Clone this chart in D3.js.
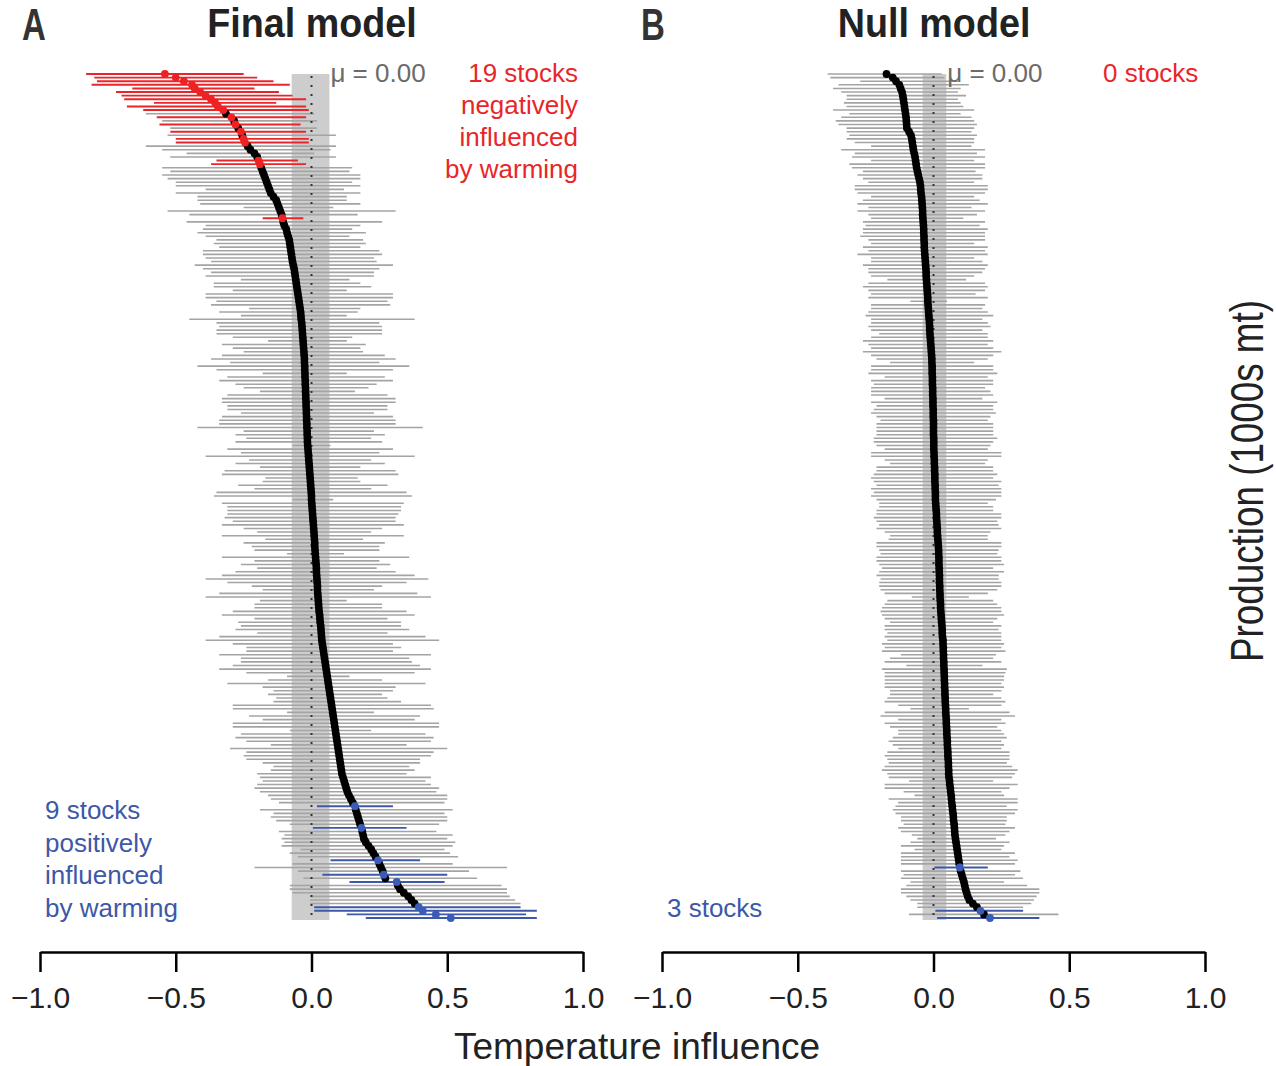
<!DOCTYPE html>
<html><head><meta charset="utf-8">
<script src="https://cdn.jsdelivr.net/npm/d3@7"></script>
<style>
body{margin:0;background:#fff}
svg{display:block}
text{font-family:"Liberation Sans",Arial,Helvetica,sans-serif}
</style>
</head><body>
<svg id="chart" width="1276" height="1066"></svg>
<script>
// ---------- DATA ----------
const tickValues = [-1, -0.5, 0, 0.5, 1];
const panelLetters = ["A", "B"];
const panelTitles = ["Final model", "Null model"];
const muLabels = ["μ = 0.00", "μ = 0.00"];
const negLabelA = ["19 stocks", "negatively", "influenced", "by warming"];
const posLabelA = ["9 stocks", "positively", "influenced", "by warming"];
const negLabelB = ["0 stocks"];
const posLabelB = ["3 stocks"];
const xTitle = "Temperature influence";
const sideTitle = "Production (1000s mt)";

// Panel A: Final model (stocks ordered by estimate)
const estA = [
-0.54,-0.50,-0.47,-0.44,-0.43,-0.41,-0.39,-0.37,-0.355,-0.345,
-0.325,-0.315,-0.295,-0.285,-0.28,-0.27,-0.26,-0.255,-0.25,-0.245,
-0.235,-0.225,-0.21,-0.20,-0.195,-0.19,-0.185,-0.18,-0.175,-0.17,
-0.165,-0.16,-0.155,-0.15,-0.14,-0.13,-0.125,-0.12,-0.115,-0.11,
-0.107,-0.104,-0.10,-0.093,-0.09,-0.086,-0.082,-0.08,-0.078,-0.076,
-0.074,-0.072,-0.07,-0.067,-0.064,-0.062,-0.06,-0.058,-0.056,-0.054,
-0.052,-0.05,-0.048,-0.046,-0.044,-0.042,-0.04,-0.039,-0.038,-0.036,
-0.035,-0.034,-0.033,-0.032,-0.031,-0.03,-0.029,-0.028,-0.027,-0.026,
-0.026,-0.025,-0.025,-0.024,-0.024,-0.023,-0.023,-0.022,-0.022,-0.021,
-0.021,-0.02,-0.02,-0.019,-0.019,-0.018,-0.018,-0.017,-0.017,-0.016,
-0.016,-0.015,-0.015,-0.014,-0.013,-0.012,-0.011,-0.01,-0.009,-0.008,
-0.007,-0.006,-0.005,-0.004,-0.003,-0.002,-0.001,0,0,0.001,
0.002,0.003,0.004,0.005,0.006,0.007,0.008,0.009,0.01,0.011,
0.012,0.012,0.013,0.014,0.015,0.016,0.017,0.018,0.018,0.019,
0.02,0.021,0.022,0.022,0.023,0.024,0.025,0.026,0.027,0.028,
0.03,0.031,0.032,0.034,0.035,0.036,0.037,0.038,0.04,0.042,
0.044,0.046,0.048,0.05,0.052,0.054,0.056,0.058,0.06,0.062,
0.064,0.066,0.068,0.07,0.072,0.074,0.076,0.078,0.08,0.082,
0.084,0.086,0.088,0.09,0.092,0.094,0.096,0.098,0.1,0.102,
0.104,0.106,0.108,0.11,0.112,0.116,0.12,0.124,0.128,0.132,
0.138,0.145,0.152,0.16,0.163,0.167,0.171,0.175,0.179,0.184,
0.187,0.19,0.193,0.2,0.21,0.22,0.228,0.236,0.245,0.25,
0.256,0.262,0.266,0.272,0.314,0.318,0.326,0.34,0.356,0.368,
0.38,0.395,0.41,0.458,0.513];
const loA = [
-0.83,-0.80,-0.79,-0.81,-0.66,-0.72,-0.70,-0.69,-0.58,-0.68,
-0.62,-0.61,-0.57,-0.55,-0.56,-0.52,-0.52,-0.53,-0.50,-0.50,
-0.61,-0.55,-0.46,-0.52,-0.35,-0.37,-0.55,-0.52,-0.55,-0.53,
-0.50,-0.50,-0.39,-0.50,-0.42,-0.42,-0.41,-0.25,-0.53,-0.45,
-0.18,-0.46,-0.39,-0.40,-0.42,-0.39,-0.35,-0.36,-0.34,-0.40,
-0.40,-0.39,-0.37,-0.43,-0.40,-0.37,-0.39,-0.26,-0.36,-0.36,
-0.29,-0.39,-0.39,-0.35,-0.37,-0.23,-0.34,-0.26,-0.45,-0.35,
-0.34,-0.35,-0.35,-0.29,-0.16,-0.33,-0.29,-0.25,-0.33,-0.37,
-0.30,-0.42,-0.35,-0.18,-0.31,-0.34,-0.28,-0.25,-0.19,-0.31,
-0.33,-0.33,-0.31,-0.31,-0.26,-0.33,-0.34,-0.34,-0.42,-0.25,
-0.28,-0.24,-0.28,-0.07,-0.31,-0.26,-0.39,-0.23,-0.28,-0.19,
-0.32,-0.33,-0.17,-0.18,-0.27,-0.21,-0.35,-0.36,-0.07,-0.33,
-0.31,-0.31,-0.31,-0.32,-0.29,-0.33,-0.25,-0.20,-0.33,-0.17,
-0.25,-0.22,-0.21,-0.09,-0.33,-0.21,-0.26,-0.20,-0.28,-0.33,
-0.39,-0.31,-0.22,-0.18,-0.34,-0.39,-0.19,-0.21,-0.21,-0.29,
-0.33,-0.21,-0.27,-0.26,-0.28,-0.20,-0.34,-0.39,-0.29,-0.24,
-0.24,-0.34,-0.26,-0.26,-0.29,-0.34,-0.24,-0.09,-0.16,-0.31,
-0.18,-0.14,-0.16,-0.13,-0.14,-0.29,-0.29,-0.09,-0.23,-0.18,
-0.29,-0.29,-0.08,-0.26,-0.28,-0.24,-0.15,-0.30,-0.24,-0.25,
-0.24,-0.18,-0.14,-0.15,-0.20,-0.19,-0.18,-0.20,-0.21,-0.19,
-0.16,-0.15,-0.12,0.02,-0.19,-0.14,-0.15,-0.13,-0.08,0.005,
-0.12,-0.10,-0.11,-0.10,-0.11,-0.04,-0.08,-0.05,0.07,-0.07,
-0.21,-0.05,0.04,-0.03,0.14,-0.08,-0.08,-0.07,-0.005,-0.005,
-0.005,0.01,0.01,0.13,0.20];
const hiA = [
-0.25,-0.20,-0.14,-0.08,-0.21,-0.12,-0.07,-0.02,-0.13,-0.02,
-0.01,0.01,-0.02,0.02,-0.04,0.02,-0.02,0.09,-0.01,-0.01,
0.09,0.07,0.01,0.09,-0.05,-0.02,0.15,0.14,0.18,0.18,
0.15,0.18,0.12,0.18,0.13,0.13,0.18,0.08,0.31,0.17,
-0.03,0.26,0.18,0.15,0.20,0.14,0.19,0.20,0.18,0.25,
0.26,0.23,0.24,0.30,0.25,0.23,0.23,0.14,0.18,0.22,
0.13,0.30,0.30,0.28,0.29,0.18,0.17,0.13,0.38,0.25,
0.26,0.26,0.26,0.15,0.13,0.20,0.18,0.19,0.27,0.31,
0.25,0.36,0.30,0.13,0.27,0.30,0.24,0.21,0.16,0.28,
0.31,0.31,0.28,0.28,0.23,0.30,0.31,0.31,0.41,0.23,
0.27,0.22,0.26,0.07,0.30,0.25,0.38,0.22,0.27,0.18,
0.31,0.32,0.17,0.18,0.28,0.22,0.35,0.37,0.08,0.34,
0.33,0.33,0.32,0.31,0.31,0.34,0.26,0.22,0.34,0.19,
0.27,0.25,0.25,0.12,0.36,0.25,0.29,0.24,0.31,0.38,
0.43,0.35,0.26,0.23,0.39,0.44,0.13,0.26,0.26,0.35,
0.38,0.28,0.33,0.33,0.36,0.28,0.42,0.47,0.30,0.33,
0.30,0.44,0.36,0.37,0.40,0.44,0.38,0.14,0.26,0.42,
0.31,0.30,0.26,0.28,0.33,0.44,0.45,0.23,0.40,0.38,
0.47,0.47,0.22,0.42,0.45,0.44,0.35,0.50,0.45,0.44,
0.40,0.40,0.36,0.38,0.35,0.44,0.42,0.44,0.47,0.46,
0.50,0.50,0.49,0.30,0.52,0.49,0.50,0.50,0.47,0.35,
0.46,0.52,0.50,0.53,0.52,0.49,0.51,0.54,0.40,0.52,
0.72,0.58,0.50,0.61,0.49,0.70,0.72,0.72,0.73,0.75,
0.77,0.77,0.83,0.79,0.83];
const negA = [0,1,2,3,4,5,6,7,8,9,10,12,14,16,18,19,24,25,40];
const posA = [203,209,218,222,224,231,232,233,234];
const bandA = [-0.073, 0.066];

// Panel B: Null model
const estB = [
-0.173,-0.15,-0.138,-0.126,-0.121,-0.116,-0.113,-0.111,-0.109,-0.107,
-0.105,-0.103,-0.101,-0.1,-0.099,-0.098,-0.09,-0.083,-0.08,-0.078,
-0.076,-0.074,-0.071,-0.068,-0.066,-0.064,-0.062,-0.059,-0.056,-0.053,
-0.05,-0.048,-0.047,-0.046,-0.044,-0.043,-0.042,-0.041,-0.04,-0.04,
-0.039,-0.038,-0.037,-0.036,-0.036,-0.035,-0.035,-0.034,-0.034,-0.033,
-0.032,-0.031,-0.03,-0.029,-0.028,-0.027,-0.027,-0.026,-0.025,-0.024,
-0.023,-0.022,-0.021,-0.021,-0.02,-0.019,-0.018,-0.017,-0.016,-0.015,
-0.014,-0.014,-0.013,-0.012,-0.011,-0.01,-0.009,-0.008,-0.007,-0.006,
-0.006,-0.005,-0.005,-0.005,-0.004,-0.004,-0.004,-0.003,-0.003,-0.003,
-0.002,-0.002,-0.002,-0.001,-0.001,-0.001,0,0,0,0,
0,0.001,0.001,0.001,0.001,0.002,0.002,0.003,0.003,0.004,
0.004,0.005,0.005,0.005,0.006,0.006,0.007,0.007,0.007,0.008,
0.009,0.01,0.011,0.011,0.012,0.013,0.014,0.014,0.015,0.016,
0.017,0.018,0.019,0.019,0.02,0.02,0.02,0.021,0.021,0.022,
0.022,0.022,0.023,0.023,0.024,0.024,0.025,0.026,0.026,0.027,
0.028,0.029,0.03,0.031,0.032,0.032,0.033,0.035,0.035,0.036,
0.036,0.037,0.037,0.038,0.038,0.039,0.039,0.04,0.04,0.041,
0.041,0.042,0.042,0.043,0.043,0.044,0.045,0.045,0.046,0.047,
0.047,0.048,0.049,0.049,0.05,0.051,0.051,0.052,0.053,0.053,
0.054,0.055,0.055,0.056,0.056,0.057,0.059,0.06,0.062,0.063,
0.065,0.066,0.067,0.069,0.07,0.072,0.073,0.074,0.076,0.077,
0.078,0.079,0.081,0.083,0.085,0.087,0.089,0.091,0.093,0.095,
0.097,0.1,0.104,0.108,0.112,0.115,0.118,0.122,0.126,0.132,
0.145,0.16,0.173,0.186,0.208];
const loB = [
-0.39,-0.38,-0.27,-0.35,-0.37,-0.34,-0.32,-0.32,-0.33,-0.32,
-0.37,-0.31,-0.34,-0.36,-0.35,-0.32,-0.32,-0.31,-0.32,-0.29,
-0.23,-0.34,-0.29,-0.30,-0.23,-0.31,-0.30,-0.26,-0.28,-0.26,
-0.24,-0.29,-0.29,-0.28,-0.23,-0.26,-0.28,-0.24,-0.28,-0.24,
-0.23,-0.26,-0.25,-0.26,-0.26,-0.27,-0.24,-0.23,-0.26,-0.24,
-0.28,-0.23,-0.23,-0.26,-0.24,-0.24,-0.23,-0.17,-0.24,-0.26,
-0.24,-0.23,-0.24,-0.085,-0.23,-0.23,-0.24,-0.25,-0.23,-0.23,
-0.24,-0.23,-0.20,-0.23,-0.26,-0.24,-0.23,-0.26,-0.23,-0.21,
-0.16,-0.23,-0.23,-0.24,-0.18,-0.23,-0.22,-0.23,-0.23,-0.23,
-0.18,-0.23,-0.21,-0.22,-0.23,-0.21,-0.195,-0.21,-0.21,-0.21,
-0.21,-0.22,-0.22,-0.21,-0.18,-0.23,-0.23,-0.18,-0.16,-0.21,
-0.21,-0.22,-0.23,-0.22,-0.21,-0.23,-0.22,-0.23,-0.21,-0.20,
-0.20,-0.21,-0.21,-0.22,-0.21,-0.20,-0.21,-0.18,-0.16,-0.165,
-0.21,-0.21,-0.20,-0.195,-0.21,-0.21,-0.20,-0.19,-0.20,-0.21,
-0.195,-0.20,-0.20,-0.195,-0.18,-0.08,-0.17,-0.18,-0.19,-0.195,
-0.19,-0.18,-0.16,-0.18,-0.18,-0.17,-0.18,-0.17,-0.19,-0.18,
-0.19,-0.12,-0.16,-0.18,-0.10,-0.19,-0.18,-0.18,-0.18,-0.18,
-0.18,-0.16,-0.16,-0.17,-0.18,-0.13,-0.085,-0.18,-0.195,-0.13,
-0.18,-0.16,-0.13,-0.13,-0.15,-0.165,-0.15,-0.13,-0.17,-0.18,
-0.17,-0.165,-0.18,-0.19,-0.17,-0.165,-0.09,-0.18,-0.18,-0.11,
-0.07,-0.165,-0.13,-0.14,-0.15,-0.14,-0.12,-0.12,-0.11,-0.13,
-0.12,-0.08,-0.06,-0.085,-0.12,-0.07,-0.12,-0.12,-0.12,-0.12,
0.003,-0.12,-0.11,-0.12,-0.085,-0.10,-0.12,-0.12,-0.10,-0.085,
-0.06,-0.06,0.007,-0.09,0.013];
const hiB = [
0.03,0.04,0.09,0.13,0.10,0.09,0.12,0.09,0.10,0.11,
0.15,0.10,0.14,0.15,0.16,0.15,0.14,0.16,0.15,0.15,
0.14,0.19,0.16,0.19,0.15,0.19,0.19,0.155,0.18,0.18,
0.15,0.20,0.20,0.19,0.15,0.17,0.20,0.14,0.19,0.16,
0.11,0.19,0.17,0.20,0.19,0.19,0.19,0.15,0.20,0.19,
0.20,0.15,0.18,0.20,0.19,0.18,0.15,0.12,0.19,0.20,
0.19,0.155,0.20,0.05,0.19,0.18,0.20,0.22,0.18,0.20,
0.21,0.18,0.20,0.20,0.22,0.20,0.22,0.25,0.22,0.20,
0.15,0.22,0.22,0.235,0.20,0.22,0.22,0.19,0.21,0.22,
0.18,0.235,0.22,0.22,0.23,0.21,0.20,0.22,0.22,0.22,
0.22,0.235,0.22,0.21,0.20,0.25,0.25,0.20,0.19,0.22,
0.22,0.235,0.22,0.25,0.24,0.25,0.25,0.25,0.23,0.20,
0.22,0.22,0.25,0.25,0.235,0.24,0.25,0.21,0.20,0.20,
0.25,0.25,0.24,0.235,0.25,0.25,0.26,0.22,0.26,0.24,
0.24,0.25,0.25,0.235,0.20,0.13,0.22,0.235,0.25,0.25,
0.26,0.235,0.22,0.25,0.24,0.25,0.25,0.25,0.26,0.25,
0.265,0.23,0.22,0.25,0.18,0.27,0.265,0.26,0.26,0.25,
0.26,0.25,0.22,0.25,0.265,0.25,0.13,0.28,0.30,0.25,
0.265,0.235,0.25,0.26,0.27,0.25,0.26,0.25,0.28,0.28,
0.28,0.27,0.29,0.31,0.30,0.29,0.22,0.31,0.28,0.25,
0.26,0.31,0.31,0.27,0.31,0.30,0.27,0.27,0.265,0.30,
0.28,0.265,0.23,0.28,0.26,0.25,0.30,0.28,0.31,0.30,
0.20,0.32,0.30,0.33,0.26,0.345,0.39,0.39,0.38,0.37,
0.36,0.33,0.33,0.46,0.39];
const negB = [];
const posB = [220, 232, 234];
const bandB = [-0.04, 0.047];

// ---------- DRAWING ----------
const svg = d3.select("#chart");
const colNeg = "#e8262a", colPos = "#3d58a8", colGray = "#a4a4a4";
const yTop = 74, yBottom = 918, axisY = 952;

function panel(cfg) {
  const n = cfg.est.length;
  const x = d3.scaleLinear().domain([-1, 1]).range(cfg.xr);
  const y = d3.scaleLinear().domain([0, n - 1]).range([yTop, yBottom]);
  const status = d3.range(n).map(i => cfg.neg.includes(i) ? "neg" : cfg.pos.includes(i) ? "pos" : "ns");
  const color = s => s === "neg" ? colNeg : s === "pos" ? colPos : colGray;
  const g = svg.append("g");

  // band around the mean
  g.append("rect")
    .attr("x", x(cfg.band[0])).attr("width", x(cfg.band[1]) - x(cfg.band[0]))
    .attr("y", y(0)).attr("height", y(n - 1) - y(0) + 2)
    .attr("fill", "#cdcdcd");

  const rows = d3.range(n).map(i => ({i, est: cfg.est[i], lo: cfg.lo[i], hi: cfg.hi[i], s: status[i]}));
  const ordered = rows.filter(d => d.s === "ns").concat(rows.filter(d => d.s !== "ns"));

  g.append("g").selectAll("line").data(ordered).join("line")
    .attr("x1", d => x(d.lo)).attr("x2", d => x(d.hi))
    .attr("y1", d => y(d.i)).attr("y2", d => y(d.i))
    .attr("stroke", d => color(d.s))
    .attr("stroke-width", d => d.s === "ns" ? 1.6 : 1.9);

  // dotted zero line
  g.append("line")
    .attr("x1", x(0)).attr("x2", x(0))
    .attr("y1", y(0) + 2).attr("y2", y(n - 1) + 2)
    .attr("stroke", "#333").attr("stroke-width", 2)
    .attr("stroke-dasharray", "2,7");

  g.append("g").selectAll("circle").data(ordered).join("circle")
    .attr("cx", d => x(d.est)).attr("cy", d => y(d.i)).attr("r", 3.9)
    .attr("fill", d => d.s === "ns" ? "#000" : (d.s === "neg" ? "#ee2222" : "#3b5bb8"));

  // axis
  const ax = g.append("g").attr("transform", `translate(0,${axisY})`)
    .call(d3.axisBottom(x).tickValues(tickValues).tickSize(20).tickSizeOuter(0)
      .tickPadding(15).tickFormat(d3.format(".1f")));
  ax.select(".domain").attr("stroke", "#000").attr("stroke-width", 2.5);
  ax.selectAll(".tick line").attr("stroke", "#000").attr("stroke-width", 2.5);
  ax.selectAll(".tick text").attr("font-size", 30).attr("fill", "#222")
    .attr("font-family", "'Liberation Sans',Arial,sans-serif");

  // letter and title
  svg.append("text").attr("transform", `translate(${cfg.letterX},40) scale(0.75,1)`)
    .attr("font-size", 44).attr("font-weight", "bold").attr("fill", "#333").text(cfg.letter);
  svg.append("text").attr("transform", `translate(${cfg.titleX},37) scale(0.92,1)`)
    .attr("text-anchor", "middle").attr("font-size", 41).attr("font-weight", "bold")
    .attr("fill", "#222").text(cfg.title);

  svg.append("text").attr("x", x(cfg.band[1]) + 1).attr("y", 82)
    .attr("font-size", 26).attr("fill", "#6b6b6b").text(cfg.mu);

  return x;
}

panel({est: estA, lo: loA, hi: hiA, neg: negA, pos: posA, band: bandA, xr: [40, 583],
  letter: panelLetters[0], letterX: 22, title: panelTitles[0], titleX: 312, mu: muLabels[0]});
panel({est: estB, lo: loB, hi: hiB, neg: negB, pos: posB, band: bandB, xr: [662, 1205],
  letter: panelLetters[1], letterX: 641, title: panelTitles[1], titleX: 934, mu: muLabels[1]});

// annotations
svg.append("g").selectAll("text").data(negLabelA).join("text")
  .attr("x", 578).attr("y", (d, i) => 82 + i * 32).attr("text-anchor", "end")
  .attr("font-size", 26).attr("fill", colNeg).text(d => d);
svg.append("g").selectAll("text").data(posLabelA).join("text")
  .attr("x", 45).attr("y", (d, i) => 819 + i * 32.7)
  .attr("font-size", 26).attr("fill", colPos).text(d => d);
svg.append("g").selectAll("text").data(negLabelB).join("text")
  .attr("x", 1103).attr("y", 82).attr("font-size", 26).attr("fill", colNeg).text(d => d);
svg.append("g").selectAll("text").data(posLabelB).join("text")
  .attr("x", 667).attr("y", 917).attr("font-size", 26).attr("fill", colPos).text(d => d);

svg.append("text").attr("x", 637).attr("y", 1059).attr("text-anchor", "middle")
  .attr("font-size", 37).attr("fill", "#222").text(xTitle);

svg.append("text").attr("transform", "translate(1263,481) rotate(-90) scale(0.8,1)")
  .attr("text-anchor", "middle").attr("font-size", 46).attr("fill", "#222").text(sideTitle);
</script>
</body></html>
